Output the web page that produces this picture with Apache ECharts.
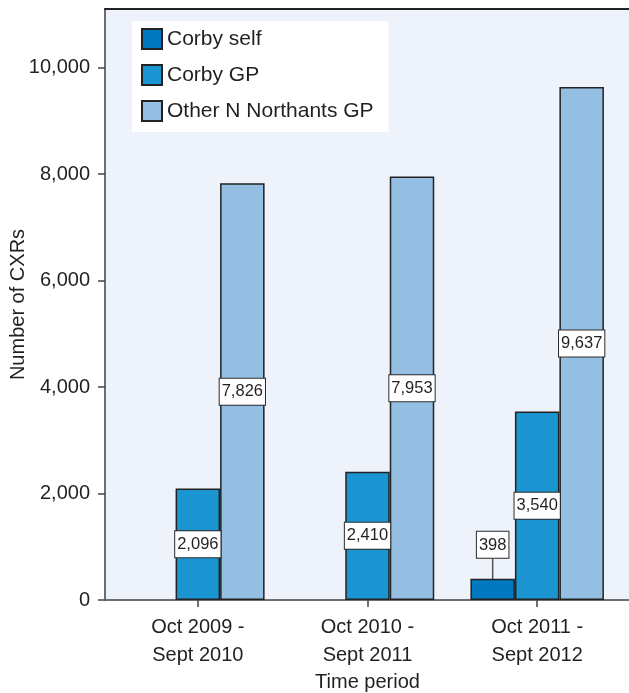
<!DOCTYPE html>
<html>
<head>
<meta charset="utf-8">
<script src="https://cdn.jsdelivr.net/npm/echarts@6/dist/echarts.min.js"></script>
<style>
  html, body { margin: 0; padding: 0; background: #fff; }
  #chart { width: 629px; height: 693px; }
</style>
</head>
<body>
<div id="chart"></div>
<script>
// chart data
const periods = ['Oct 2009 -\nSept 2010', 'Oct 2010 -\nSept 2011', 'Oct 2011 -\nSept 2012'];
const corbySelf = ['-', '-', 398];
const corbyGP = [2096, 2410, 3540];
const otherGP = [7826, 7953, 9637];
const yTicks = [0, 2000, 4000, 6000, 8000, 10000];

const FONT = '"Liberation Sans", Arial, Helvetica, sans-serif';
const INK = '#231f20';

const boxLabel = {
  show: true,
  position: 'inside',
  fontFamily: FONT,
  fontSize: 16.5,
  color: INK,
  backgroundColor: '#fff',
  borderColor: '#2a2a2a',
  borderWidth: 1,
  padding: [5, 2, 4, 2],
  formatter: p => p.value.toLocaleString('en-US')
};

function barSeries(name, data, color) {
  return {
    name: name,
    type: 'bar',
    xAxisIndex: 1,
    yAxisIndex: 1,
    barWidth: 44.5,
    barGap: '0%',
    data: data,
    itemStyle: { color: color, borderColor: '#222', borderWidth: 1.5 },
    label: boxLabel,
    emphasis: { disabled: true }
  };
}

const selfSeries = barSeries('Corby self', corbySelf, '#0079c1');
selfSeries.label = Object.assign({}, boxLabel, { position: 'top', distance: 0 });
selfSeries.labelLine = { show: true, lineStyle: { color: '#555', width: 1.5 } };
selfSeries.labelLayout = { dy: -21 };

const chart = echarts.init(document.getElementById('chart'));

chart.setOption({
  animation: false,
  textStyle: { fontFamily: FONT },
  legend: {
    orient: 'vertical',
    left: 132,
    top: 21,
    padding: [7, 15, 10, 9],
    itemGap: 14,
    itemWidth: 20,
    itemHeight: 20,
    icon: 'rect',
    backgroundColor: '#fff',
    textStyle: { fontSize: 21, lineHeight: 20, color: INK, fontFamily: FONT },
    data: ['Corby self', 'Corby GP', 'Other N Northants GP']
  },
  grid: [
    { left: 105, right: 0, top: 9, bottom: 93, outerBoundsMode: 'none', containLabel: false,
      show: true, backgroundColor: '#eef3fb', borderWidth: 0 },
    { left: 113, right: 7, top: 9, bottom: 93, outerBoundsMode: 'none', containLabel: false }
  ],
  xAxis: [
    {
      gridIndex: 0, type: 'value', min: 0, max: 1,
      axisLine: { show: true, onZero: false, lineStyle: { color: '#6d6e71', width: 2 } },
      axisTick: { show: false }, axisLabel: { show: false }, splitLine: { show: false }
    },
    {
      gridIndex: 1, type: 'category', data: periods,
      axisLine: { show: false },
      axisTick: { show: true, alignWithLabel: true, length: 7, lineStyle: { color: '#444', width: 1.5 } },
      axisLabel: { fontSize: 20, lineHeight: 28, color: INK, margin: 13, fontFamily: FONT },
      name: 'Time period',
      nameLocation: 'middle',
      nameGap: 72,
      nameMoveOverlap: false,
      nameTextStyle: { fontSize: 20, color: INK, fontFamily: FONT }
    },
    {
      gridIndex: 0, type: 'value', min: 0, max: 1, position: 'top',
      axisLine: { show: true, onZero: false, lineStyle: { color: '#222', width: 2 } },
      axisTick: { show: false }, axisLabel: { show: false }, splitLine: { show: false }
    }
  ],
  yAxis: [
    {
      gridIndex: 0, type: 'value', min: 0, max: 11100,
      axisLine: { show: true, lineStyle: { color: '#6d6e71', width: 2 } },
      axisTick: { show: true, length: 7, customValues: yTicks, lineStyle: { color: '#444', width: 1.5 } },
      axisLabel: {
        customValues: yTicks, fontSize: 20, color: INK, margin: 15, fontFamily: FONT,
        formatter: v => v.toLocaleString('en-US')
      },
      splitLine: { show: false },
      name: 'Number of CXRs',
      nameLocation: 'middle',
      nameRotate: 90,
      nameGap: 77,
      nameMoveOverlap: false,
      nameTextStyle: { fontSize: 20, color: INK, fontFamily: FONT }
    },
    {
      gridIndex: 1, type: 'value', min: 0, max: 11100, show: false
    }
  ],
  series: [
    selfSeries,
    barSeries('Corby GP', corbyGP, '#1b94d2'),
    barSeries('Other N Northants GP', otherGP, '#94bfe3')
  ]
});
</script>
</body>
</html>
